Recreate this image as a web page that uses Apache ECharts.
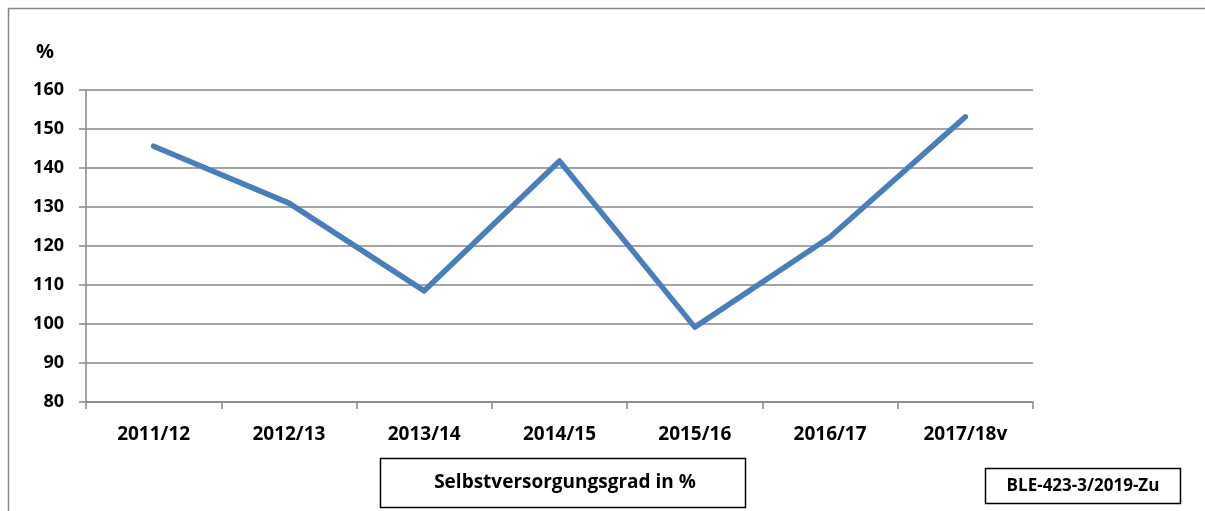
<!DOCTYPE html>
<html>
<head>
<meta charset="utf-8">
<script src="https://cdn.jsdelivr.net/npm/echarts@6/dist/echarts.min.js"></script>
<style>
  html, body { margin: 0; padding: 0; background: #fff; }
  #main { width: 1205px; height: 511px; }
</style>
</head>
<body>
<div id="main"></div>
<script>
// Wirtschaftsjahre
var jahre = ['2011/12', '2012/13', '2013/14', '2014/15', '2015/16', '2016/17', '2017/18v'];
// Selbstversorgungsgrad in %
var selbstversorgung = [145.6, 131.0, 108.5, 141.8, 99.2, 122.3, 153.1];
var serienName = 'Selbstversorgungsgrad in %';
var quelle = 'BLE-423-3/2019-Zu';

var font = '"Open Sans", "Liberation Sans", sans-serif';
var chart = echarts.init(document.getElementById('main'));

chart.setOption({
  animation: false,
  backgroundColor: '#fff',
  grid: { left: 86, right: 172, top: 90, bottom: 109 },
  xAxis: {
    type: 'category',
    data: jahre,
    boundaryGap: true,
    axisLine: { lineStyle: { color: '#868686', width: 1.5 } },
    axisTick: { show: true, length: 7, lineStyle: { color: '#868686', width: 1.5 } },
    axisLabel: { color: '#000', fontFamily: font, fontWeight: 'bold', fontSize: 19, margin: 23 }
  },
  yAxis: {
    type: 'value',
    min: 80, max: 160, interval: 10,
    name: '%',
    nameLocation: 'end',
    nameGap: 28,
    nameTextStyle: { color: '#000', fontFamily: font, fontWeight: 'bold', fontSize: 20, align: 'right', padding: [0, 32, 0, 0] },
    axisLine: { show: true, lineStyle: { color: '#868686', width: 1.5 } },
    axisTick: { show: true, length: 7, lineStyle: { color: '#868686', width: 1.5 } },
    axisLabel: { color: '#000', fontFamily: font, fontWeight: 'bold', fontSize: 18, margin: 22 },
    splitLine: { lineStyle: { color: '#868686', width: 1.5 } }
  },
  series: [{
    name: serienName,
    type: 'line',
    data: selbstversorgung,
    symbol: 'none',
    lineStyle: { color: '#4a7ebb', width: 5.5, cap: 'round', join: 'round' }
  }],
  graphic: [
    // Rahmen oben und links
    { type: 'line', shape: { x1: 8, y1: 8.5, x2: 1205, y2: 8.5 }, style: { stroke: '#868686', lineWidth: 1.5 } },
    { type: 'line', shape: { x1: 8.5, y1: 8, x2: 8.5, y2: 511 }, style: { stroke: '#868686', lineWidth: 1.5 } },
    // Legende
    { type: 'rect', shape: { x: 380.5, y: 458.5, width: 365, height: 49 }, style: { fill: '#fff', stroke: '#000', lineWidth: 1.5 } },
    { type: 'text', x: 565, y: 483, style: { text: serienName, fill: '#000', font: 'bold 19px ' + font, align: 'center', verticalAlign: 'middle' } },
    // Quelle
    { type: 'rect', shape: { x: 985.5, y: 468.5, width: 195, height: 35 }, style: { fill: '#fff', stroke: '#000', lineWidth: 1.5 } },
    { type: 'text', x: 1083, y: 486, style: { text: quelle, fill: '#000', font: 'bold 17px ' + font, align: 'center', verticalAlign: 'middle' } }
  ]
});
</script>
</body>
</html>
